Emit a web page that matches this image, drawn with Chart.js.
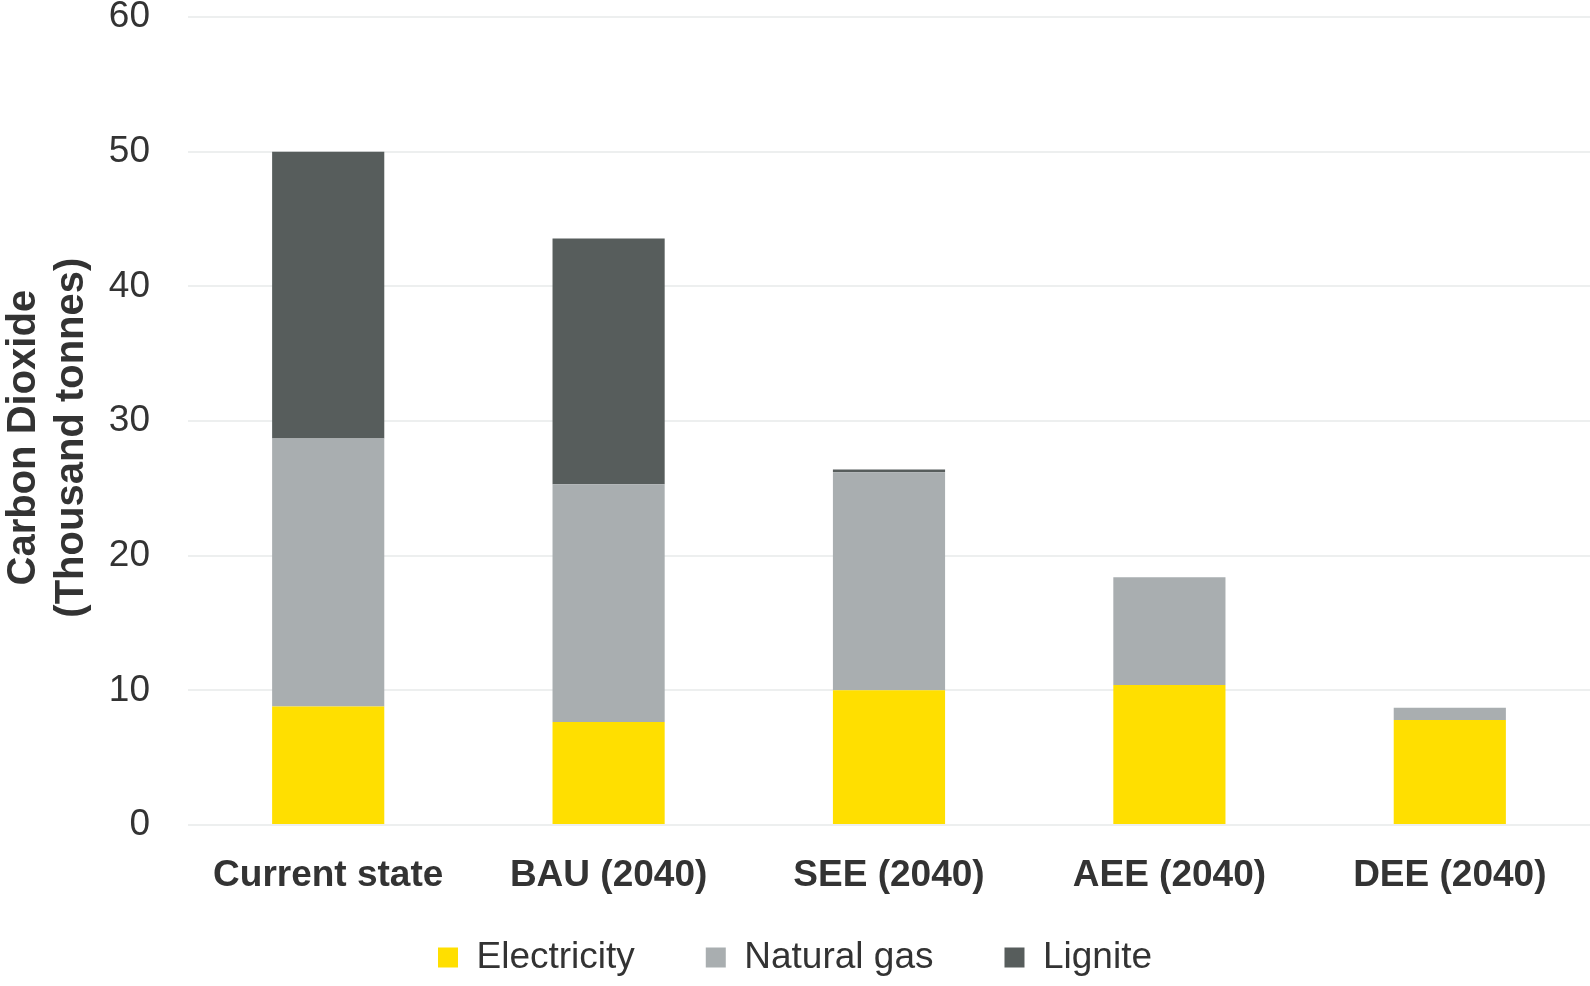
<!DOCTYPE html>
<html>
<head>
<meta charset="utf-8">
<script src="https://cdn.jsdelivr.net/npm/chart.js@4/dist/chart.umd.min.js"></script>
<style>
  html, body { margin: 0; padding: 0; background: #fff; }
  #wrap { width: 1590px; height: 986px; }
</style>
</head>
<body>
<div id="wrap"><canvas id="co2_chart"></canvas></div>
<script>
const categories = ['Current state', 'BAU (2040)', 'SEE (2040)', 'AEE (2040)', 'DEE (2040)'];
const electricity = [8.8, 7.65, 10.0, 10.4, 7.8];
const naturalGas = [19.9, 17.65, 16.2, 8.0, 0.9];
const lignite = [21.3, 18.25, 0.2, 0, 0];
const yTicks = [0, 10, 20, 30, 40, 50, 60];

Chart.defaults.font.family = "'Liberation Sans', Arial, sans-serif";
Chart.defaults.color = '#333333';

const ctx = document.getElementById('co2_chart').getContext('2d');
new Chart(ctx, {
    type: 'bar',
    data: {
        labels: categories,
        datasets: [
            {
                label: 'Electricity',
                data: electricity,
                backgroundColor: '#FFDF00', // yellow
                barPercentage: 0.4,
                categoryPercentage: 1.0
            },
            {
                label: 'Natural gas',
                data: naturalGas,
                backgroundColor: '#A9AEB0', // light grey
                barPercentage: 0.4,
                categoryPercentage: 1.0
            },
            {
                label: 'Lignite',
                data: lignite,
                backgroundColor: '#575D5C', // dark grey
                barPercentage: 0.4,
                categoryPercentage: 1.0
            }
        ]
    },
    options: {
        responsive: true,
        maintainAspectRatio: false,
        animation: false,
        layout: { padding: 0 },
        plugins: {
            tooltip: { enabled: false },
            legend: {
                position: 'bottom',
                labels: {
                    boxWidth: 20,
                    boxHeight: 20,
                    padding: 71,
                    color: '#333333',
                    font: { size: 37 }
                }
            }
        },
        scales: {
            x: {
                stacked: true,
                grid: { display: false },
                border: { display: false },
                afterFit: axis => {
                    axis.height = 43;
                    // let the category labels spill below the shortened axis box
                    axis._computeLabelArea = () => undefined;
                },
                ticks: {
                    padding: 21,
                    color: '#333333',
                    font: { size: 37, weight: 'bold' }
                }
            },
            y: {
                stacked: true,
                min: 0,
                max: 60,
                afterBuildTicks: axis => { axis.ticks = yTicks.map(v => ({ value: v })); },
                afterFit: axis => {
                    axis.width = 188;
                    axis.paddingTop = 17;
                },
                grid: { color: '#EDEFEF', lineWidth: 2, drawTicks: false },
                border: { display: false },
                ticks: {
                    padding: 38,
                    color: '#333333',
                    font: { size: 37 }
                },
                title: {
                    display: true,
                    // trailing spaces nudge the rotated title a little lower
                    text: ['Carbon Dioxide   ', '(Thousand tonnes)   '],
                    color: '#333333',
                    font: { size: 40, weight: 'bold', lineHeight: 1.2 },
                    padding: 0
                }
            }
        }
    }
});
</script>
</body>
</html>
